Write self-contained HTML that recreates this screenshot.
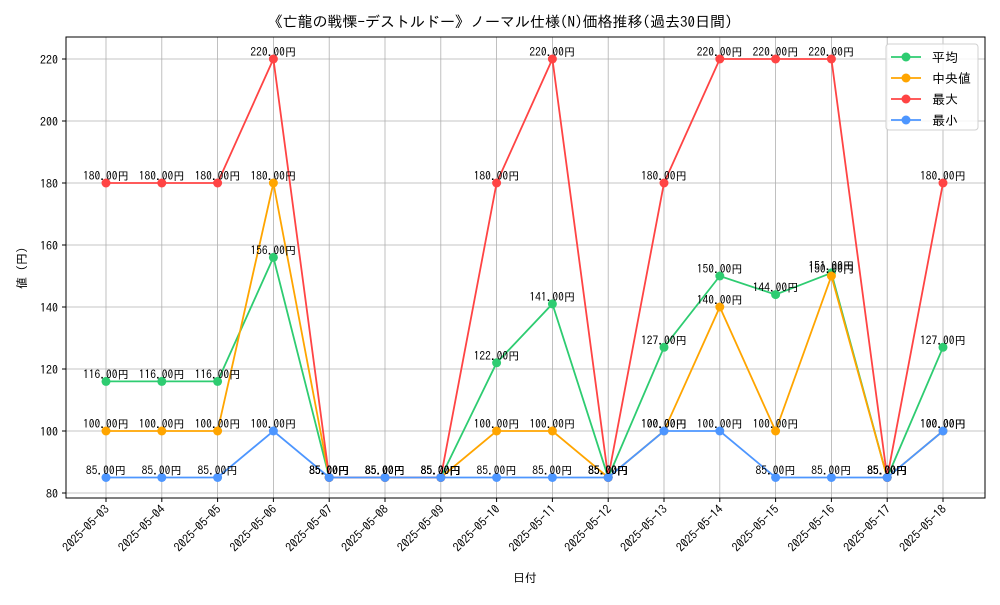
<!DOCTYPE html>
<html><head><meta charset="utf-8"><style>
body{margin:0;background:#fff}
svg text{font-family:"IPAGothic","Noto Sans CJK JP",sans-serif;}
</style></head><body>
<svg id="c" width="1000" height="600" xmlns="http://www.w3.org/2000/svg"></svg>
<script>
const categories=["2025-05-03","2025-05-04","2025-05-05","2025-05-06","2025-05-07","2025-05-08","2025-05-09","2025-05-10","2025-05-11","2025-05-12","2025-05-13","2025-05-14","2025-05-15","2025-05-16","2025-05-17","2025-05-18"];
const avgValues=[116,116,116,156,85,85,85,122,141,85,127,150,144,151,85,127];
const medianValues=[100,100,100,180,85,85,85,100,100,85,100,140,100,150,85,100];
const maxValues=[180,180,180,220,85,85,85,180,220,85,180,220,220,220,85,180];
const minValues=[85,85,85,100,85,85,85,85,85,85,100,100,85,85,85,100];
const yTicks=[80,100,120,140,160,180,200,220];
const seriesNames=["平均","中央値","最大","最小"];

const NS="http://www.w3.org/2000/svg";
const svg=document.getElementById('c');
const L=66,R=985,T=37,B=498;
const x=i=>106+i*(943-106)/(categories.length-1);
const y=v=>493-(v-80)*(62/20);
function el(t,a,p){const e=document.createElementNS(NS,t);for(const k in a)e.setAttribute(k,a[k]);(p||svg).appendChild(e);return e;}

const t=el('text',{x:500,y:27,'text-anchor':'middle','font-size':15});


t.textContent="《亡龍の戦慄-デストルドー》ノーマル仕様(N)価格推移(過去30日間)";

const grid=el('g',{});


yTicks.forEach(v=>{
  el('line',{x1:L,x2:R,y1:y(v),y2:y(v),stroke:'#b0b0b0','stroke-width':0.8},grid);
  el('line',{x1:L-4,x2:L,y1:y(v),y2:y(v),stroke:'#000'},grid);
  const tx=el('text',{x:L-8,y:y(v)+5,'text-anchor':'end','font-size':12});
  
  
  tx.textContent=v;
});
categories.forEach((c,i)=>{
  el('line',{x1:x(i),x2:x(i),y1:T,y2:B,stroke:'#b0b0b0','stroke-width':0.8},grid);
  el('line',{x1:x(i),x2:x(i),y1:B,y2:B+4,stroke:'#000'},grid);
  const tx=el('text',{x:x(i)+4,y:B+12,'text-anchor':'end','font-size':12,transform:`rotate(-45 ${x(i)+4} ${B+12})`});
  
  
  tx.textContent=c;
});
const frame=el('rect',{x:L,y:T,width:R-L,height:B-T,fill:'none',stroke:'#000','stroke-width':1});



const xl=el('text',{x:525,y:582,'text-anchor':'middle','font-size':12});


xl.textContent="日付";
const yl=el('text',{x:26,y:268,'text-anchor':'middle','font-size':12,transform:'rotate(-90 26 268)'});


yl.textContent="値 (円)";

const series=[[avgValues,'#2ecc71'],[medianValues,'#ffa500'],[maxValues,'#ff4444'],[minValues,'#4d96ff']];
series.forEach(([vals,col],si)=>{
  const g=el('g',{});
  
  
  el('polyline',{points:vals.map((v,i)=>x(i)+','+y(v)).join(' '),fill:'none',stroke:col,'stroke-width':1.8},g);
  vals.forEach((v,i)=>{
    const c=el('circle',{cx:x(i),cy:y(v),r:4.5,fill:col},g);
    
    
  });
});
series.forEach(([vals])=>{
  vals.forEach((v,i)=>{
    const tx=el('text',{x:x(i),y:y(v)-3,'text-anchor':'middle','font-size':11.5});
    
    
    tx.textContent=v.toFixed(2)+"円";
  });
});

const lg=el('g',{});


el('rect',{x:886,y:44,width:92,height:86,rx:3,fill:'#fff','fill-opacity':0.85,stroke:'#d0d0d0'},lg);
series.forEach(([v,col],i)=>{
  const yy=57+i*21;
  el('line',{x1:891,x2:921,y1:yy,y2:yy,stroke:col,'stroke-width':1.8},lg);
  el('circle',{cx:906,cy:yy,r:4.5,fill:col},lg);
  const tx=el('text',{x:932,y:yy+5,'font-size':13},lg);
  
  
  tx.textContent=seriesNames[i];
});
</script>
</body></html>
